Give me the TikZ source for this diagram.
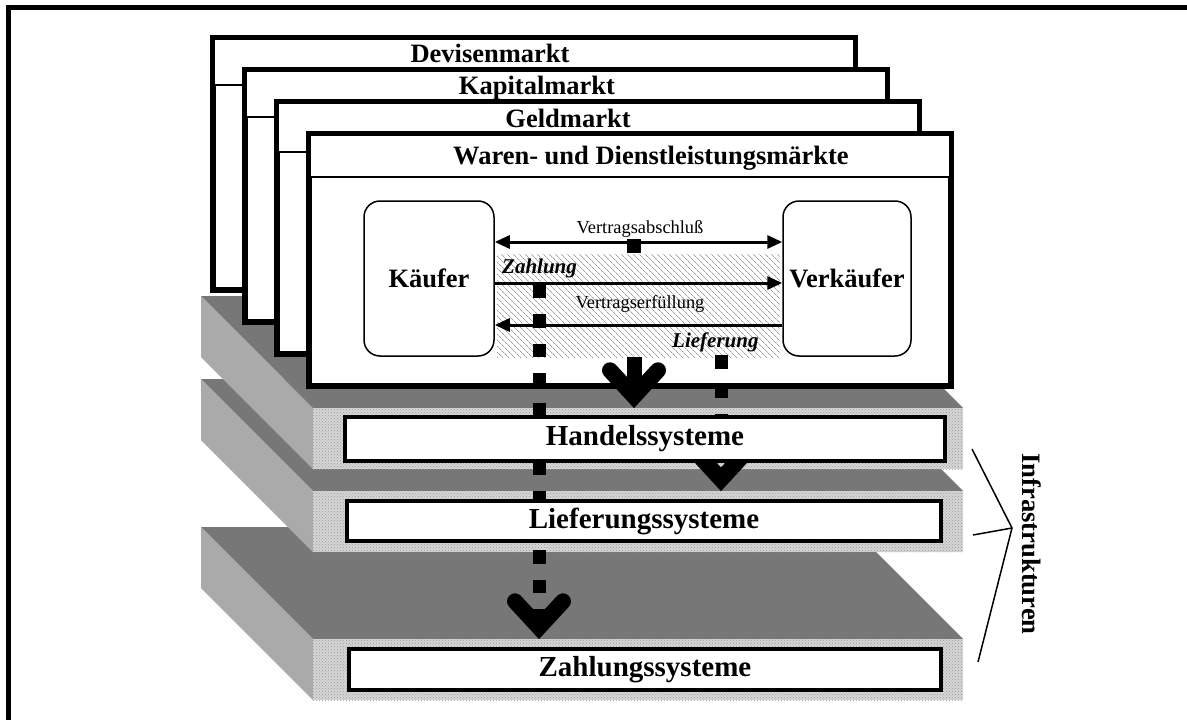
\documentclass[tikz,border=0pt]{standalone}
\usepackage{fontspec}
\setmainfont{Liberation Serif}
\usetikzlibrary{arrows.meta,patterns,patterns.meta,calc}

\definecolor{slabtop}{HTML}{777777}
\definecolor{slabside}{HTML}{AAAAAA}
\definecolor{slabfront}{HTML}{D6D6D6}

% V-shaped head, tip at the given coordinate
\newcommand{\vhead}[1]{\draw[vhead, shift={(#1)}] (-24,-37.5) -- (0,-11.5) -- (24,-37.5);}

\begin{document}
\begin{tikzpicture}[
    x=1pt, y=-1pt,
    >={Triangle[length=15pt,width=13pt]},
    market/.style={
        rectangle, draw=black, line width=5pt, fill=white,
        minimum width=643pt, minimum height=253pt, inner sep=0pt
    },
    body/.style={draw=black, line width=1.3pt},
    mtitle/.style={font=\bfseries\fontsize{26.5}{30}\selectfont, anchor=base, inner sep=0pt},
    party/.style={
        rectangle, rounded corners=16pt, draw=black, line width=1.5pt, fill=white,
        font=\bfseries\fontsize{26.5}{30}\selectfont, inner sep=0pt
    },
    band/.style={
        rectangle, inner sep=0pt,
        pattern={Lines[angle=-45,distance=4pt,line width=0.8pt]}, pattern color=black!38
    },
    flow/.style={line width=3pt},
    flowlabel/.style={font=\fontsize{18.4}{20}\selectfont, anchor=base, inner sep=0pt},
    paylabel/.style={font=\bfseries\itshape\fontsize{21}{24}\selectfont, anchor=base west, inner sep=0pt},
    square/.style={rectangle, fill=black, minimum size=14pt, inner sep=0pt},
    dashline/.style={line width=13pt, dash pattern=on 13.5pt off 16pt},
    shaft/.style={line width=15pt},
    vhead/.style={line width=16pt, line cap=round, line join=miter},
    front/.style={
        rectangle, inner sep=0pt, minimum width=650pt, minimum height=61pt,
        preaction={fill=slabfront}, pattern=crosshatch dots, pattern color=black!40
    },
    system/.style={
        rectangle, draw=black, line width=4pt, fill=white, inner sep=0pt,
        font=\bfseries\fontsize{29}{32}\selectfont
    },
    brace/.style={line width=1.5pt},
]
\useasboundingbox (0,0) rectangle (1187,720);

% ── Frame ────────────────────────────────────────────────────
\draw[line width=5pt] (8.5,720) -- (8.5,7.5) -- (1187,7.5);

% ── Infrastructure slabs (back to front) ─────────────────────
% Zahlungssysteme slab
\fill[slabtop]  (201,527) -- (851,527) -- (963,639) -- (313,639) -- cycle;
\fill[slabside] (201,527) -- (313,639) -- (313,700) -- (201,588) -- cycle;
\node[front] (zahlFront) at (638,669.5) {};

% Lieferungssysteme slab
\fill[slabtop]  (201,379) -- (851,379) -- (963,491) -- (313,491) -- cycle;
\fill[slabside] (201,379) -- (313,491) -- (313,552) -- (201,440) -- cycle;
\node[front] (lieferFront) at (638,521.5) {};

% Handelssysteme slab
\fill[slabtop]  (201,296) -- (851,296) -- (963,408) -- (313,408) -- cycle;
\fill[slabside] (201,296) -- (313,408) -- (313,469) -- (201,357) -- cycle;
\node[front] (handelFront) at (638,438.5) {};

% ── Market boxes ─────────────────────────────────────────────
\node[market] (devisen) at (534,164) {};
\draw[body] (215.5,85) rectangle (852.5,287.5);
\node[mtitle] (devisenT) at (490,62) {Devisenmarkt};

\node[market] (kapital) at (566,196) {};
\draw[body] (247.5,117) rectangle (884.5,319.5);
\node[mtitle] (kapitalT) at (537,94) {Kapitalmarkt};

\node[market] (geld) at (598,228) {};
\draw[body] (279.5,152) rectangle (916.5,351.5);
\node[mtitle] (geldT) at (568,127) {Geldmarkt};

\node[market] (waren) at (630,260) {};
\draw[body] (311.5,177) rectangle (948.5,383.5);
\node[mtitle] (warenT) at (651,164) {Waren- und Dienstleistungsmärkte};

% ── Buyer / seller ───────────────────────────────────────────
\node[party, minimum width=130pt, minimum height=155pt] (kaeufer) at (429,278.5) {Käufer};
\node[party, minimum width=128pt, minimum height=155pt] (verkaeufer) at (847,278.5) {Verkäufer};
\node[band, minimum width=283pt, minimum height=103pt] (band) at (638.5,305.5) {};

% ── Contract arrows ──────────────────────────────────────────
\draw[flow, <->] ([yshift=36.5pt]kaeufer.east) -- ([yshift=36.5pt]verkaeufer.west);
\draw[flow, ->]  ([yshift=-4.5pt]kaeufer.east) -- ([yshift=-4.5pt]verkaeufer.west);
\draw[flow, <-]  ([yshift=-46.5pt]kaeufer.east) -- ([yshift=-46.5pt]verkaeufer.west);

\node[flowlabel] (vaLabel) at (640,233) {Vertragsabschluß};
\node[flowlabel] (veLabel) at (640,308) {Vertragserfüllung};
\node[paylabel] (zLabel) at (502,273) {Zahlung};
\node[paylabel] (lLabel) at (672,347) {Lieferung};
\node[square] (vaDot) at (634,246) {};

% ── Links down to the systems ────────────────────────────────
\coordinate (vTip) at (handelFront.north -| vaDot);
\draw[shaft] (band.south -| vaDot) -- ([yshift=11.5pt]vTip);
\vhead{vTip}

\coordinate (zTop) at (539,284.5);
\coordinate (zTip) at (zahlFront.north -| zTop);
\draw[dashline] (zTop) -- ([yshift=11.5pt]zTip);
\vhead{zTip}

\coordinate (lTop) at (721,355);
\coordinate (lTip) at (lieferFront.north -| lTop);
\draw[dashline] (lTop) -- ([yshift=11.5pt]lTip);
\vhead{lTip}

% ── System boxes ─────────────────────────────────────────────
\node[system, minimum width=600pt, minimum height=44pt] (handel) at (645,439) {Handelssysteme};
\node[system, minimum width=594pt, minimum height=40pt] (liefer) at (644,521) {Lieferungssysteme};
\node[system, minimum width=592pt, minimum height=41pt] (zahl) at (645,669.5) {Zahlungssysteme};

% ── Infrastrukturen ──────────────────────────────────────────
\coordinate (apex) at (1012,528);
\coordinate (b1) at (972,449);
\coordinate (b2) at (973,535);
\coordinate (b3) at (978,662);
\draw[brace] (b1) -- (apex) -- (b3);
\draw[brace] (b2) -- (apex);
\node[rotate=-90, font=\bfseries\fontsize{26.6}{30}\selectfont] (infra) at (1032,544) {Infrastrukturen};

\end{tikzpicture}
\end{document}
